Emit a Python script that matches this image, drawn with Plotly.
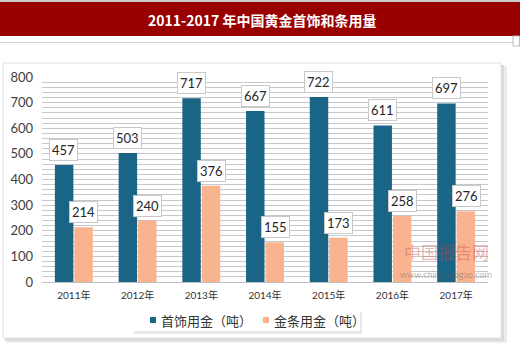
import plotly.graph_objects as go

# ---- data ----
years = ["2011年", "2012年", "2013年", "2014年", "2015年", "2016年", "2017年"]
jewelry_gold = [457, 503, 717, 667, 722, 611, 697]
bar_gold = [214, 240, 376, 155, 173, 258, 276]
series_names = ["首饰用金（吨）", "金条用金（吨）"]
y_tick_values = [0, 100, 200, 300, 400, 500, 600, 700, 800]
title_text = "2011-2017 年中国黄金首饰和条用量"

W, H = 520, 343
def px(x):
    return x / W
def py(y):
    return 1 - y / H

BLUE = "#1a6585"
SALMON = "#f9b48f"
FONT = "Lato, 'Noto Sans CJK SC', sans-serif"
CJK = "'Noto Sans CJK SC', sans-serif"

fig = go.Figure()
fig.add_trace(go.Bar(x=years, y=jewelry_gold, name=series_names[0],
                     marker=dict(color=BLUE, line=dict(width=0))))
fig.add_trace(go.Bar(x=years, y=bar_gold, name=series_names[1],
                     marker=dict(color=SALMON, line=dict(width=0))))

annotations = []
for vals, shift in ((jewelry_gold, -10), (bar_gold, 10)):
    for yr, v in zip(years, vals):
        annotations.append(dict(
            x=yr, y=v, xref="x", yref="y", text=str(v), showarrow=False,
            xshift=shift, yshift=4, yanchor="bottom",
            font=dict(family=FONT, size=13, color="#262626"),
            bgcolor="white", bordercolor="#c8c8c8", borderwidth=1, borderpad=2))

# title
annotations.append(dict(x=px(262), y=py(19.5), xref="paper", yref="paper",
                        xanchor="center", yanchor="middle",
                        text="<b>" + title_text + "</b>", showarrow=False,
                        font=dict(family=CJK, size=14, color="white")))
# watermark
annotations.append(dict(x=px(446), y=py(266), xref="paper", yref="paper",
                        xanchor="center", yanchor="bottom",
                        text="中国报告网", showarrow=False,
                        font=dict(family=CJK, size=17, color="rgba(205,70,70,0.40)")))
annotations.append(dict(x=px(446), y=py(266.5), xref="paper", yref="paper",
                        xanchor="center", yanchor="top",
                        text="www.chinabaogao.com", showarrow=False,
                        font=dict(family=FONT, size=9, color="rgba(90,90,90,0.45)")))

# manual legend
legend_items = [(series_names[0], BLUE, 150), (series_names[1], SALMON, 263)]
shapes = []
for name, color, lx in legend_items:
    shapes.append(dict(type="rect", xref="paper", yref="paper",
                       x0=px(lx), x1=px(lx + 6), y0=py(323), y1=py(317),
                       fillcolor=color, line=dict(width=0), layer="above"))
    annotations.append(dict(x=px(lx + 9), y=py(320), xref="paper", yref="paper",
                            text=name, showarrow=False, xanchor="left", yanchor="middle",
                            font=dict(family=CJK, size=13, color="#333333")))

shapes = [
    # top gray line
    dict(type="line", xref="paper", yref="paper", x0=0, x1=1, y0=py(1), y1=py(1),
         line=dict(color="#9a9a9a", width=1), layer="below"),
    # title bar
    dict(type="rect", xref="paper", yref="paper", x0=0, x1=1, y0=py(36), y1=py(2),
         fillcolor="#990000", line=dict(width=0), layer="below"),
    # separator line
    dict(type="line", xref="paper", yref="paper", x0=0, x1=1, y0=py(42.5), y1=py(42.5),
         line=dict(color="#cfcfcf", width=1), layer="below"),
    dict(type="rect", xref="paper", yref="paper", x0=px(513), x1=px(519.5), y0=py(46), y1=py(36),
         fillcolor="white", line=dict(color="#bdbdbd", width=1), layer="below"),
    # card shadow
    dict(type="rect", xref="paper", yref="paper", x0=px(6), x1=px(507), y0=py(343), y1=py(66),
         fillcolor="#ececec", line=dict(width=0), layer="below"),
    dict(type="rect", xref="paper", yref="paper", x0=px(5), x1=px(504), y0=py(341), y1=py(65),
         fillcolor="#dadada", line=dict(width=0), layer="below"),
    # card
    dict(type="rect", xref="paper", yref="paper", x0=px(3), x1=px(501), y0=py(338), y1=py(63),
         fillcolor="white", line=dict(color="#e0e0e0", width=1), layer="below"),
    # legend shadow + box
    dict(type="rect", xref="paper", yref="paper", x0=px(134), x1=px(362), y0=py(334), y1=py(312),
         fillcolor="#e8e8e8", line=dict(width=0), layer="below"),
    dict(type="rect", xref="paper", yref="paper", x0=px(132), x1=px(360), y0=py(331), y1=py(310),
         fillcolor="white", line=dict(width=0), layer="below"),
] + shapes

fig.update_layout(
    width=W, height=H,
    margin=dict(l=0, r=0, t=0, b=0, autoexpand=False),
    paper_bgcolor="white",
    plot_bgcolor="#e9eff4",
    barmode="group", bargap=0.39, bargroupgap=0.05,
    font=dict(family=FONT, color="#333333"),
    xaxis=dict(domain=[px(42), px(488)], type="category",
               tickfont=dict(family=FONT, size=10, color="#333333"),
               showline=True, linecolor="#bfbfbf", linewidth=1,
               ticks="", showgrid=False, fixedrange=True, automargin=False,
               ticklabelstandoff=4),
    yaxis=dict(domain=[py(282), py(77)], range=[0, 800],
               tickvals=y_tick_values, tickfont=dict(family=FONT, size=13, color="#404040"),
               showgrid=True, gridcolor="#c5c9cd", gridwidth=1,
               minor=dict(dtick=20, showgrid=True, gridcolor="#c5c9cd", gridwidth=1),
               zeroline=False, ticks="", ticklabelstandoff=8, showline=False,
               automargin=False),
    showlegend=False,
    annotations=annotations,
    shapes=shapes,
)

fig.write_html("out.html")
